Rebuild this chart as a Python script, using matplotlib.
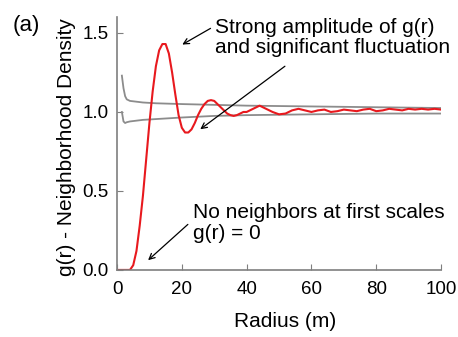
import matplotlib
matplotlib.use("Agg")
import matplotlib.pyplot as plt

plt.rcParams['font.family'] = ['Liberation Sans', 'DejaVu Sans']

# g(r)
radius = [0, 2, 4, 5, 6, 7, 8, 9, 10, 11, 12, 13, 14, 15, 16, 17, 18, 19, 20,
          21, 22, 23, 24, 25, 26, 27, 28, 29, 30, 31, 32, 33, 34, 35, 36, 37,
          38, 39, 40, 42, 44, 46, 48, 50, 52, 54, 56, 58, 60, 62, 64, 66, 68,
          70, 72, 74, 76, 78, 80, 82, 84, 86, 88, 90, 92, 94, 96, 98, 100]
g_r = [0, 0, 0, 0.03, 0.12, 0.28, 0.47, 0.70, 0.93, 1.13, 1.29, 1.39, 1.43,
       1.43, 1.37, 1.25, 1.11, 0.98, 0.90, 0.87, 0.87, 0.89, 0.93, 0.98, 1.02,
       1.05, 1.07, 1.075, 1.07, 1.05, 1.03, 1.01, 0.99, 0.98, 0.975, 0.98,
       0.99, 1.0, 1.0, 1.02, 1.04, 1.02, 1.0, 0.985, 0.99, 1.01, 1.02, 1.01,
       1.0, 1.01, 1.015, 1.0, 1.005, 1.015, 1.01, 1.005, 1.015, 1.02, 1.005,
       1.01, 1.02, 1.015, 1.01, 1.02, 1.015, 1.02, 1.015, 1.02, 1.015]

# envelope lines (gray)
env_r = [1.5, 2, 2.5, 3, 4, 6, 8, 12, 20, 30, 40, 60, 80, 100]
env_hi = [1.23, 1.15, 1.10, 1.08, 1.07, 1.065, 1.06, 1.055, 1.05, 1.045,
          1.04, 1.035, 1.03, 1.025]
env_lo = [1.0, 0.94, 0.93, 0.935, 0.94, 0.945, 0.95, 0.955, 0.965, 0.975,
          0.98, 0.985, 0.99, 0.99]

fig = plt.figure(figsize=(4.58, 3.37), dpi=100)
ax = fig.add_axes([0.2555, 0.199, 0.7075, 0.75])

ax.plot(env_r, env_hi, color='#8c8c8c', lw=1.3)
ax.plot(env_r, env_lo, color='#8c8c8c', lw=1.3)
ax.plot(radius, g_r, color='#e8191e', lw=1.5)

ax.set_xlim(0, 100)
ax.set_ylim(0, 1.6)
ax.set_xticks([0, 20, 40, 60, 80, 100])
ax.set_yticks([0.0, 0.5, 1.0, 1.5])
ax.set_yticklabels(['0.0', '0.5', '1.0', '1.5'])
for s in ['top', 'right']:
    ax.spines[s].set_visible(False)
for s in ['left', 'bottom']:
    ax.spines[s].set_color('#7f7f7f')
    ax.spines[s].set_linewidth(1.2)
ax.tick_params(direction='in', length=4, color='#7f7f7f', labelsize=13.5)
ax.tick_params(axis='x', pad=8)
ax.tick_params(axis='y', pad=6)

ax.set_xlabel('Radius (m)', fontsize=15)
ax.xaxis.set_label_coords(0.52, -0.166)
ax.set_ylabel('g(r) - Neighborhood Density', fontsize=15)
ax.yaxis.set_label_coords(-0.127, 0.486)

fig.text(0.028, 0.955, '(a)', fontsize=16, va='top')

arr = dict(arrowstyle='->', color='black', lw=0.9)
ax.text(30.2, 1.595, 'Strong amplitude of g(r)\nand significant fluctuation',
        fontsize=15, va='top', ha='left', linespacing=1.05)
ax.annotate('', xy=(19.4, 1.418), xytext=(29.6, 1.538), arrowprops=arr)
ax.annotate('', xy=(25, 0.88), xytext=(52.5, 1.30), arrowprops=arr)
ax.text(23.5, 0.424, 'No neighbors at first scales\ng(r) = 0',
        fontsize=15, va='top', ha='left', linespacing=1.15)
ax.annotate('', xy=(8.95, 0.05), xytext=(22.5, 0.30), arrowprops=arr)

fig.savefig('out.png', dpi=100)
